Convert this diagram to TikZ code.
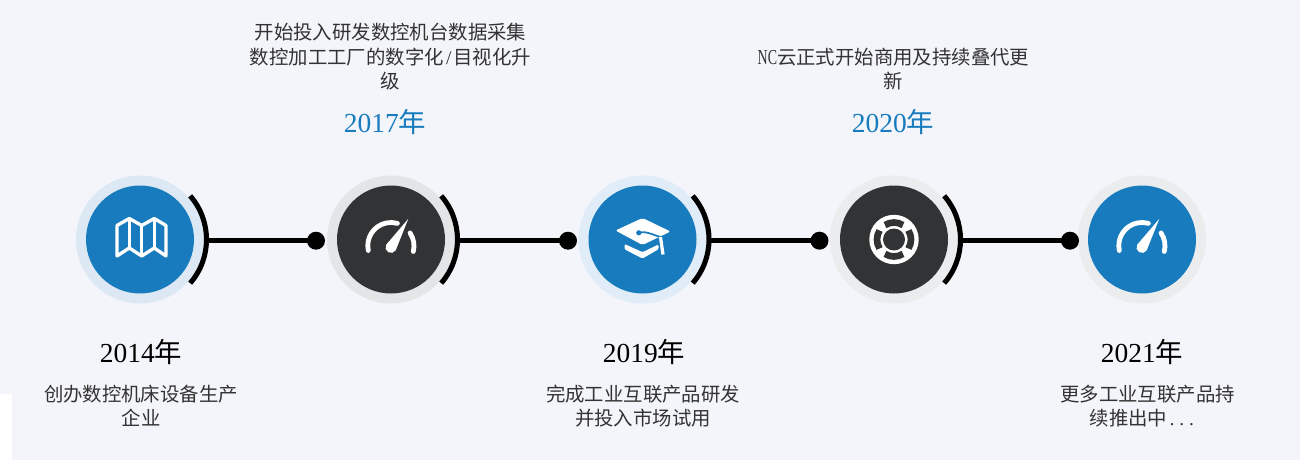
\documentclass[tikz,border=0pt]{standalone}
\usepackage{fontspec}
\setmainfont{Liberation Serif}
\newfontfamily\cjk{Noto Sans CJK SC}
\usetikzlibrary{positioning,calc}
\definecolor{pagebg}{HTML}{F3F5FA}
\definecolor{iconblue}{HTML}{177BBD}
\definecolor{icondark}{HTML}{323335}
\definecolor{ringA}{HTML}{DCE8F4}
\definecolor{ringB}{HTML}{E4E5E7}
\definecolor{ringC}{HTML}{E0ECF7}
\definecolor{ringD}{HTML}{EBECED}
\tikzset{
    ringdisc/.style={circle,inner sep=0pt,minimum size=96pt},
    innerdisc/.style={circle,inner sep=0pt,minimum size=81pt},
    enddot/.style={circle,fill=black,inner sep=0pt,minimum size=13.5pt},
    bracket/.style={line width=3.8pt,black},
    linkline/.style={line width=3.6pt,black},
    yeartext/.style={font=\fontsize{20.6}{24}\selectfont,inner sep=0pt},
    notetext/.style={font=\cjk\fontsize{14.55}{18.4}\selectfont,text=black!80,align=center,inner sep=0pt},
    mapicon/.pic={
        \draw[white,line width=2.5pt,line join=round]
            (-23,-16.5) -- (-23,14) -- (-10.7,21) -- (1.7,14) -- (14.3,21) -- (26,14)
            -- (26,-16.5) -- (14.3,-8.5) -- (1.7,-16.5) -- (-10.7,-8.5) -- cycle;
        \draw[white,line width=2.5pt] (-10.7,21) -- (-10.7,-8.5);
        \draw[white,line width=2.5pt] (1.7,14) -- (1.7,-16.5);
        \draw[white,line width=2.5pt] (14.3,21) -- (14.3,-8.5);
    },
    gaugeicon/.pic={
        \draw[white,line width=3.6pt,line cap=round] (-22.7,-11) arc[start angle=192,end angle=74,radius=23.2];
        \draw[white,line width=3.6pt,line cap=round] (22.3,-12) arc[start angle=-14,end angle=34,radius=23.2];
        \fill[white] (17.3,20.7) -- (4.7,-10.8) arc[start angle=-31,end angle=-211,radius=5.5] -- cycle;
    },
    capicon/.pic={
        \fill[white,rounded corners=1.5pt] (-27,9) -- (0,21.5) -- (28,8) -- (0,-5.5) -- cycle;
        \fill[white,rounded corners=1pt] (-18,-4.5) -- (0,-12.7) -- (16,-5) -- (16,-9.8) -- (0,-19) -- (-18,-9.8) -- cycle;
        \draw[iconblue,line width=1.3pt] (-3.7,6.7) .. controls (2,9) and (10,5) .. (19,2);
        \fill[iconblue] (-3.7,6.7) circle (2.6);
        \draw[white,line width=2.4pt] (18,2.5) -- (20.5,-15);
    },
    buoyicon/.pic={
        \fill[white] (0,0) circle (24.7);
        \fill[icondark] (0,0) circle (11);
        \foreach \ang in {0,90,180,270} {
            \draw[icondark,line width=5pt] (\ang-32:17) arc[start angle=\ang-32,end angle=\ang+32,radius=17];
        }
    }
}
\begin{document}
\begin{tikzpicture}[x=0.75pt,y=0.75pt]
    \useasboundingbox (0,-460) rectangle (1300,0);
    \fill[pagebg] (0,-460) rectangle (1300,0);
    \fill[white] (0,-460) rectangle (12,-394);

    % Rings and discs
    \foreach \name/\x/\ringcol/\disccol in {A/140/ringA/iconblue,B/391/ringB/icondark,C/642.5/ringC/iconblue,D/894/ringD/icondark,E/1142/ringD/iconblue} {
        \node[ringdisc,fill=\ringcol] (ring\name) at (\x,-239.5) {};
        \node[innerdisc,fill=\disccol] (disc\name) at (\x,-239.5) {};
    }

    % Dots at the end of each link
    \foreach \name/\x in {A/316,B/568,C/819.5,D/1070} {
        \node[enddot] (dot\name) at (\x,-240.7) {};
    }

    % Links and brackets
    \foreach \name in {A,B,C,D} {
        \draw[linkline] (ring\name.east |- dot\name) -- (dot\name.center);
        \draw[bracket] ([shift={(-41:66.5)}]ring\name.center) arc[start angle=-41,end angle=41,radius=66.5];
    }

    % Icons
    \pic at (ringA) {mapicon};
    \pic at (ringB) {gaugeicon};
    \pic at (ringC) {capicon};
    \pic at (ringD) {buoyicon};
    \pic at (ringE) {gaugeicon};

    % Years
    \node[yeartext] (yearA) at (141,-352) {2014{\cjk 年}};
    \node[yeartext,text=iconblue] (yearB) at (385,-122) {2017{\cjk 年}};
    \node[yeartext] (yearC) at (644,-352) {2019{\cjk 年}};
    \node[yeartext,text=iconblue] (yearD) at (893,-122) {2020{\cjk 年}};
    \node[yeartext] (yearE) at (1142,-352) {2021{\cjk 年}};

    % Notes
    \node[notetext] (noteA) at (141,-406) {创办数控机床设备生产\\企业};
    \node[notetext] (noteB) at (390.5,-57) {开始投入研发数控机台数据采集\\数控加工工厂的数字化{\rmfamily\makebox[0.5em]{/}}目视化升\\级};
    \node[notetext] (noteC) at (643,-406) {完成工业互联产品研发\\并投入市场试用};
    \node[notetext] (noteD) at (893.5,-69) {{\rmfamily\scalebox{0.72}[1.1]{NC}}云正式开始商用及持续叠代更\\新};
    \node[notetext] (noteE) at (1147.5,-406) {更多工业互联产品持\\续推出中{\rmfamily\makebox[0.5em]{.}\makebox[0.5em]{.}\makebox[0.5em]{.}}\hspace*{6.75pt}};
\end{tikzpicture}
\end{document}
